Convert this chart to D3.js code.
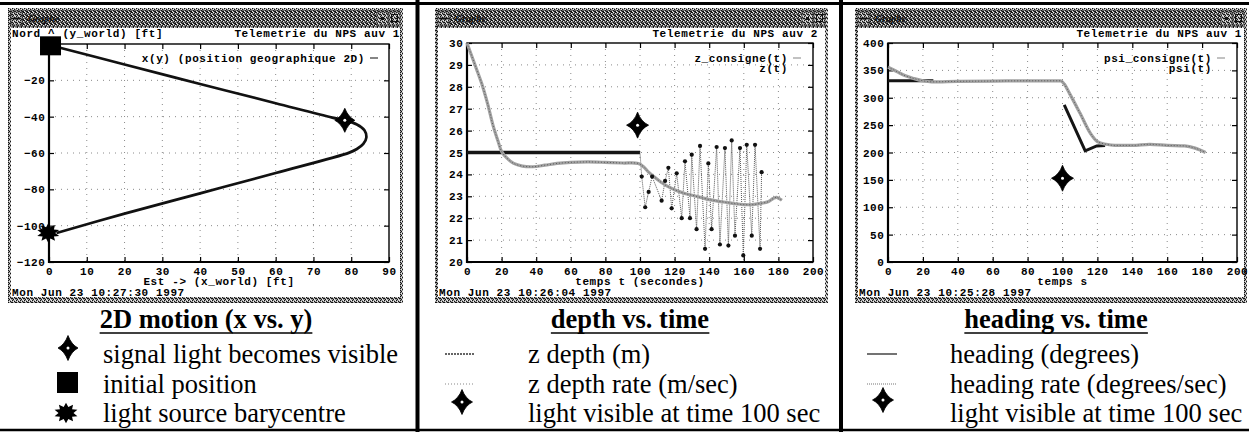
<!DOCTYPE html>
<html>
<head>
<meta charset="utf-8">
<script src="https://d3js.org/d3.v7.min.js"></script>
<style>
  body { margin: 0; background: #fff; }
  svg { display: block; }
  .mono, .axis text {
    font-family: "Liberation Mono", "DejaVu Sans Mono", monospace;
    font-weight: bold;
    font-size: 11px;
    letter-spacing: 0.6px;
    fill: #000;
  }
  .axis path { display: none; }
  .axis line { stroke: #000; stroke-width: 1.2; }
  .grid line { stroke: #8a8a8a; stroke-width: 1; stroke-dasharray: 1,5; }
  .serif {
    font-family: "Liberation Serif", "Times New Roman", serif;
    font-size: 26.5px;
    fill: #000;
  }
</style>
</head>
<body>
<svg width="1249" height="432"></svg>
<script>

// ---- panel 1 : x(y) trajectory ----
var xTicks1 = [0, 10, 20, 30, 40, 50, 60, 70, 80, 90];
var yTicks1 = [-120, -100, -80, -60, -40, -20];
var trajX = [0.6, 20, 40, 60, 75, 78.3, 81.5, 83.5, 84, 83.2, 81.5, 79.5, 60, 40, 20, 2];
var trajY = [-0.8, -11.3, -22, -32.6, -40.5, -42, -44.3, -47.5, -51.5, -55, -57.8, -59.8, -71, -82.2, -93.4, -104];
var startXY = [0.4, -1];
var lightXY1 = [78.3, -42];
var baryXY = [-0.2, -104];

// ---- panel 2 : depth ----
var tTicks = [0, 20, 40, 60, 80, 100, 120, 140, 160, 180, 200];
var yTicks2 = [20, 21, 22, 23, 24, 25, 26, 27, 28, 29, 30];
var tDepth = [0, 3, 6, 8.5, 12, 15, 18, 20, 23, 27, 32, 38, 45, 52, 60, 70, 80, 90, 99, 102, 105, 108, 112, 116, 120, 125, 130, 135, 140, 145, 150, 155, 160, 165, 170, 174, 177, 179, 182];
var zDepth = [30, 29.35, 28.7, 28.15, 27.2, 26.25, 25.5, 25.05, 24.75, 24.5, 24.38, 24.35, 24.42, 24.5, 24.55, 24.57, 24.55, 24.52, 24.5, 24.35, 24.1, 23.9, 23.65, 23.45, 23.3, 23.15, 23.05, 22.95, 22.85, 22.78, 22.72, 22.66, 22.62, 22.62, 22.68, 22.75, 22.9, 22.95, 22.82];
var tCmd = [0, 100, 101, 103, 105, 107, 112.5, 114.5, 116.4, 118.3, 121.2, 124.1, 126, 128.9, 129.9, 132.7, 134.7, 137.6, 139.5, 141.4, 144.3, 146.2, 149.1, 151.1, 153, 154.9, 157.8, 159.7, 161.7, 164.6, 166.5, 169.4, 170.3];
var zCmd = [25, 25, 23.9, 22.5, 23.2, 23.9, 22.8, 23.7, 24.3, 22.45, 24.05, 22.0, 24.6, 22.0, 24.9, 21.5, 25.3, 20.6, 24.5, 21.5, 25.25, 20.8, 25.2, 20.75, 25.55, 21.2, 25.2, 20.3, 25.35, 21.2, 25.35, 20.6, 24.1];
var lightXY2 = [98.6, 26.25];

// ---- panel 3 : heading ----
var yTicks3 = [0, 50, 100, 150, 200, 250, 300, 350, 400];
var tHead = [0, 5, 10, 15, 20, 25, 40, 60, 80, 99, 101, 104, 110, 116, 120, 125, 130, 140, 150, 160, 170, 176, 182];
var head = [356, 348, 340, 335, 331, 329, 330, 330.5, 331, 331, 325, 308, 272, 235, 220, 215, 213, 213, 215, 213, 212, 208, 200];
var tHeadCmd = [0, 26, 26, 101, 113, 119.6, 124.4];
var headCmd = [331, 331, NaN, 287, 203, 212, 213];
var lightXY3 = [100, 153];

// ---- texts ----
var headers = ["Telemetrie du NPS auv 1", "Telemetrie du NPS auv 2", "Telemetrie du NPS auv 1"];
var dates = ["Mon Jun 23 10:27:30 1997", "Mon Jun 23 10:26:04 1997", "Mon Jun 23 10:25:28 1997"];
var xTitles = ["Est -> (x_world) [ft]", "temps t (secondes)", "temps s"];
var keyTitles = ["2D motion (x vs. y)", "depth vs. time", "heading vs. time"];
var keyItems1 = ["signal light becomes visible", "initial position", "light source barycentre"];
var keyItems2 = ["z depth (m)", "z depth rate (m/sec)", "light visible at time 100 sec"];
var keyItems3 = ["heading (degrees)", "heading rate (degrees/sec)", "light visible at time 100 sec"];

var svg = d3.select("svg");

// halftone textures of the X window frames
var defs = svg.append("defs");
function dither(id, bg, dark, light) {
	var p = defs.append("pattern").attr("id", id)
		.attr("width", 4).attr("height", 4)
		.attr("patternUnits", "userSpaceOnUse");
	p.append("rect").attr("width", 4).attr("height", 4).attr("fill", bg);
	dark.forEach(function(c){
		p.append("rect").attr("x", c[0]).attr("y", c[1]).attr("width", 1).attr("height", 1).attr("fill", "#111");
	});
	light.forEach(function(c){
		p.append("rect").attr("x", c[0]).attr("y", c[1]).attr("width", 1).attr("height", 1).attr("fill", "#eee");
	});
}
dither("ditherLight", "#9a9a9a", [[0,0],[2,1],[1,3],[3,2],[0,2]], [[1,1],[3,0],[2,3]]);
dither("ditherDark", "#6e6e6e", [[0,0],[2,1],[1,2],[3,3],[2,3],[3,0]], [[1,0],[3,1],[0,3]]);

function starPath(w, h) {
	var c = 3.4;
	return "M0," + (-h) + "Q" + c + "," + (-c) + " " + w + ",0" +
		"Q" + c + "," + c + " 0," + h +
		"Q" + (-c) + "," + c + " " + (-w) + ",0" +
		"Q" + (-c) + "," + (-c) + " 0," + (-h) + "Z";
}
function burstPath(r1, r2, n) {
	var pts = d3.range(2 * n).map(function(i){
		var a = Math.PI * i / n, r = i % 2 ? r2 : r1;
		return [r * Math.sin(a), -r * Math.cos(a) * 0.85];
	});
	return "M" + pts.join("L") + "Z";
}
function drawStar(g, cx, cy, w, h) {
	g.append("path").attr("d", starPath(w, h))
		.attr("transform", "translate(" + cx + "," + cy + ")")
		.attr("fill", "#000").attr("stroke", "#000").attr("stroke-width", 0.8);
	g.append("circle").attr("cx", cx).attr("cy", cy).attr("r", 1.5).attr("fill", "#fff");
}

function drawWindow(x0, x1) {
	var w = x1 - x0;
	svg.append("rect").attr("x", x0).attr("y", 8).attr("width", w).attr("height", 295)
		.attr("fill", "url(#ditherLight)");
	svg.append("rect").attr("x", x0 + 2).attr("y", 10).attr("width", w - 4).attr("height", 17)
		.attr("fill", "url(#ditherDark)");
	svg.append("rect").attr("x", x0 + 3).attr("y", 28).attr("width", w - 6).attr("height", 269)
		.attr("fill", "#fff");
	// title bar buttons
	svg.append("rect").attr("x", x0 + 3).attr("y", 12).attr("width", 11).attr("height", 13)
		.attr("fill", "url(#ditherLight)").attr("stroke", "#333").attr("stroke-width", 0.8);
	svg.append("rect").attr("x", x0 + 5).attr("y", 17.5).attr("width", 7).attr("height", 2).attr("fill", "#111");
	[26, 14].forEach(function(o){
		svg.append("rect").attr("x", x1 - o).attr("y", 12).attr("width", 11).attr("height", 13)
			.attr("fill", "url(#ditherLight)").attr("stroke", "#333").attr("stroke-width", 0.8);
	});
	svg.append("rect").attr("x", x1 - 22).attr("y", 17).attr("width", 3).attr("height", 3).attr("fill", "#111");
	svg.append("rect").attr("x", x1 - 11.5).attr("y", 14.5).attr("width", 6).attr("height", 7)
		.attr("fill", "none").attr("stroke", "#111").attr("stroke-width", 1);
	svg.append("text").attr("x", x0 + 20).attr("y", 22)
		.style("font", "italic bold 10px 'Liberation Serif', serif").attr("fill", "#111")
		.text("Graphe");
}

function drawPlot(cfg) {
	drawWindow(cfg.x0, cfg.x1);
	var g = svg.append("g");
	var x = d3.scaleLinear().domain(cfg.xDomain).range([cfg.l, cfg.r]);
	var y = d3.scaleLinear().domain(cfg.yDomain).range([cfg.b, cfg.t]);

	// dotted grid
	g.append("g").attr("class", "grid")
		.selectAll("line").data(cfg.xTicks.filter(function(d){ return d > cfg.xDomain[0] && d < cfg.xDomain[1]; }))
		.join("line")
		.attr("x1", function(d){ return x(d); }).attr("x2", function(d){ return x(d); })
		.attr("y1", cfg.t).attr("y2", cfg.b);
	g.append("g").attr("class", "grid")
		.selectAll("line").data(cfg.yTicks.filter(function(d){ return d > cfg.yDomain[0] && d < cfg.yDomain[1]; }))
		.join("line")
		.attr("y1", function(d){ return y(d); }).attr("y2", function(d){ return y(d); })
		.attr("x1", cfg.l).attr("x2", cfg.r);

	// axes, ticks inward and mirrored
	g.append("g").attr("class", "axis")
		.attr("transform", "translate(0," + cfg.b + ")")
		.call(d3.axisBottom(x).tickValues(cfg.xTicks).tickSize(-5).tickPadding(5));
	g.append("g").attr("class", "axis")
		.attr("transform", "translate(0," + cfg.t + ")")
		.call(d3.axisTop(x).tickValues(cfg.xTicks).tickSize(-5).tickFormat(""));
	g.append("g").attr("class", "axis")
		.attr("transform", "translate(" + cfg.l + ",0)")
		.call(d3.axisLeft(y).tickValues(cfg.yTicks).tickSize(-5).tickPadding(3.5));
	g.append("g").attr("class", "axis")
		.attr("transform", "translate(" + cfg.r + ",0)")
		.call(d3.axisRight(y).tickValues(cfg.yTicks).tickSize(-5).tickFormat(""));

	// frame
	g.append("rect").attr("x", cfg.l).attr("y", cfg.t)
		.attr("width", cfg.r - cfg.l).attr("height", cfg.b - cfg.t)
		.attr("fill", "none").attr("stroke", "#000").attr("stroke-width", 1.4);
	g.append("path")
		.attr("d", "M" + cfg.l + "," + cfg.t + "V" + cfg.b + "H" + cfg.r)
		.attr("fill", "none").attr("stroke", "#000").attr("stroke-width", 2.2);

	// texts
	g.append("text").attr("class", "mono").attr("x", cfg.hx).attr("y", 37)
		.attr("text-anchor", "end").text(cfg.header);
	if (cfg.yTitle) {
		g.append("text").attr("class", "mono").attr("x", cfg.x0 + 4).attr("y", 37).text(cfg.yTitle);
	}
	g.append("text").attr("class", "mono").attr("x", (cfg.l + cfg.r) / 2).attr("y", 285)
		.attr("text-anchor", "middle").text(cfg.xTitle);
	g.append("text").attr("class", "mono").attr("x", cfg.x0 + 4).attr("y", 296).text(cfg.date);

	// gnuplot key
	cfg.key.forEach(function(k, i){
		g.append("text").attr("class", "mono").attr("x", cfg.kx).attr("y", 62 + i * 10)
			.attr("text-anchor", "end").text(k);
	});
	g.append("line").attr("x1", cfg.kx + 5).attr("x2", cfg.kx + 13).attr("y1", 58).attr("y2", 58)
		.attr("stroke", cfg.keyColor).attr("stroke-width", 1.2);

	return {g: g, x: x, y: y};
}

function lightStroke(g, path) {
	g.append("path").attr("d", path).attr("fill", "none")
		.attr("stroke", "#a2a2a2").attr("stroke-width", 3.2);
	g.append("path").attr("d", path).attr("fill", "none")
		.attr("stroke", "#5a5a5a").attr("stroke-width", 1).attr("stroke-dasharray", "1,2");
}

// ================= panel 1 =================
var p1 = drawPlot({
	x0: 8, x1: 403, l: 49, r: 389, t: 44, b: 262,
	xDomain: [0, 90], yDomain: [-120, 0],
	xTicks: xTicks1, yTicks: yTicks1,
	header: headers[0], hx: 400, yTitle: "Nord ^ (y_world) [ft]",
	xTitle: xTitles[0], date: dates[0],
	key: ["x(y) (position geographique 2D)"], kx: 365, keyColor: "#333"
});
var traj = trajX.map(function(d, i){ return [d, trajY[i]]; });
p1.g.append("path")
	.attr("d", d3.line().curve(d3.curveCatmullRom)
		.x(function(d){ return p1.x(d[0]); })
		.y(function(d){ return p1.y(d[1]); })(traj))
	.attr("fill", "none").attr("stroke", "#111").attr("stroke-width", 2.7);
p1.g.append("rect")
	.attr("x", p1.x(startXY[0]) - 10.5).attr("y", p1.y(startXY[1]) - 9.5)
	.attr("width", 21).attr("height", 19).attr("fill", "#000");
drawStar(p1.g, p1.x(lightXY1[0]), p1.y(lightXY1[1]), 10, 12);
p1.g.append("path").attr("d", burstPath(11.5, 7, 10))
	.attr("transform", "translate(" + p1.x(baryXY[0]) + "," + p1.y(baryXY[1]) + ")")
	.attr("fill", "#000");

// ================= panel 2 =================
var p2 = drawPlot({
	x0: 435, x1: 828, l: 467, r: 813, t: 43, b: 262,
	xDomain: [0, 200], yDomain: [20, 30],
	xTicks: tTicks, yTicks: yTicks2,
	header: headers[1], hx: 818,
	xTitle: xTitles[1], date: dates[1],
	key: ["z_consigne(t)", "z(t)"], kx: 788, keyColor: "#999"
});
var depthPts = tDepth.map(function(d, i){ return [d, zDepth[i]]; });
var cmdPts = tCmd.map(function(d, i){ return [d, zCmd[i]]; });
var line2 = d3.line().x(function(d){ return p2.x(d[0]); }).y(function(d){ return p2.y(d[1]); });
// commanded depth, flat part then the oscillating samples
p2.g.append("path").attr("d", line2(cmdPts.slice(0, 2)))
	.attr("fill", "none").attr("stroke", "#151515").attr("stroke-width", 3.6);
p2.g.append("path").attr("d", line2(cmdPts.slice(1)))
	.attr("fill", "none").attr("stroke", "#555").attr("stroke-width", 1).attr("stroke-dasharray", "1,1");
lightStroke(p2.g, d3.line().curve(d3.curveCatmullRom)
	.x(function(d){ return p2.x(d[0]); }).y(function(d){ return p2.y(d[1]); })(depthPts));
p2.g.selectAll(".samp").data(cmdPts.slice(2)).join("circle")
	.attr("cx", function(d){ return p2.x(d[0]); })
	.attr("cy", function(d){ return p2.y(d[1]); })
	.attr("r", 2.1).attr("fill", "#111");
drawStar(p2.g, p2.x(lightXY2[0]), p2.y(lightXY2[1]), 11, 13);

// ================= panel 3 =================
var p3 = drawPlot({
	x0: 855, x1: 1247, l: 888, r: 1237, t: 43, b: 262,
	xDomain: [0, 200], yDomain: [0, 400],
	xTicks: tTicks, yTicks: yTicks3,
	header: headers[2], hx: 1242,
	xTitle: xTitles[2], date: dates[2],
	key: ["psi_consigne(t)", "psi(t)"], kx: 1212, keyColor: "#999"
});
var headCmdPts = tHeadCmd.map(function(d, i){ return [d, headCmd[i]]; });
var headPts = tHead.map(function(d, i){ return [d, head[i]]; });
p3.g.append("path")
	.attr("d", d3.line().defined(function(d){ return !isNaN(d[1]); })
		.x(function(d){ return p3.x(d[0]); }).y(function(d){ return p3.y(d[1]); })(headCmdPts))
	.attr("fill", "none").attr("stroke", "#151515").attr("stroke-width", 3);
lightStroke(p3.g, d3.line().curve(d3.curveMonotoneX)
	.x(function(d){ return p3.x(d[0]); }).y(function(d){ return p3.y(d[1]); })(headPts));
drawStar(p3.g, p3.x(lightXY3[0]), p3.y(lightXY3[1]), 11, 13);

// ================= captions under the windows =================
function caption(cx, title, items, tx) {
	var t = svg.append("text").attr("class", "serif").attr("x", cx).attr("y", 328)
		.attr("text-anchor", "middle").attr("font-weight", "bold").text(title);
	var bb = t.node().getBBox();
	svg.append("line").attr("x1", bb.x).attr("x2", bb.x + bb.width)
		.attr("y1", 333).attr("y2", 333).attr("stroke", "#000").attr("stroke-width", 1.6);
	[363, 393, 422].forEach(function(yy, i){
		svg.append("text").attr("class", "serif").attr("x", tx).attr("y", yy).text(items[i]);
	});
}
caption(206, keyTitles[0], keyItems1, 103);
caption(630, keyTitles[1], keyItems2, 528);
caption(1056, keyTitles[2], keyItems3, 950);

// panel 1 symbols
drawStar(svg, 68, 348, 10, 12.5);
svg.append("rect").attr("x", 57).attr("y", 372).attr("width", 21).attr("height", 21).attr("fill", "#000");
svg.append("path").attr("d", burstPath(12, 7.5, 10)).attr("transform", "translate(66,413)").attr("fill", "#000");

// panel 2 symbols
svg.append("line").attr("x1", 445).attr("x2", 475).attr("y1", 354).attr("y2", 354)
	.attr("stroke", "#333").attr("stroke-width", 1.5).attr("stroke-dasharray", "2,1");
svg.append("line").attr("x1", 445).attr("x2", 475).attr("y1", 384).attr("y2", 384)
	.attr("stroke", "#888").attr("stroke-width", 1.2).attr("stroke-dasharray", "1,2");
drawStar(svg, 462, 402, 10.5, 12.5);

// panel 3 symbols
svg.append("line").attr("x1", 867).attr("x2", 897).attr("y1", 354).attr("y2", 354)
	.attr("stroke", "#444").attr("stroke-width", 1.5);
svg.append("line").attr("x1", 867).attr("x2", 897).attr("y1", 384).attr("y2", 384)
	.attr("stroke", "#777").attr("stroke-width", 1.2).attr("stroke-dasharray", "1,1");
drawStar(svg, 883, 400, 10.5, 12.5);

// figure rules
svg.append("line").attr("x1", 0).attr("x2", 1249).attr("y1", 3.5).attr("y2", 3.5)
	.attr("stroke", "#000").attr("stroke-width", 3);
svg.append("line").attr("x1", 0).attr("x2", 1249).attr("y1", 430).attr("y2", 430)
	.attr("stroke", "#000").attr("stroke-width", 2.5);
[417.5, 841].forEach(function(xx){
	svg.append("line").attr("x1", xx).attr("x2", xx).attr("y1", 0).attr("y2", 432)
		.attr("stroke", "#000").attr("stroke-width", 4);
});

</script>
</body>
</html>
